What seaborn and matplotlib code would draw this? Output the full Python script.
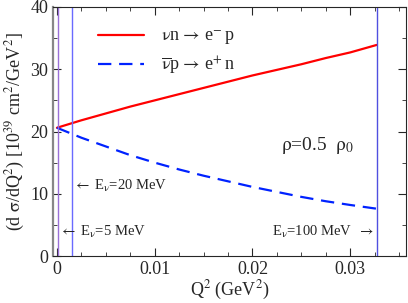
import numpy as np
import pandas as pd
import matplotlib
matplotlib.use("Agg")
import matplotlib.pyplot as plt
from matplotlib.ticker import MultipleLocator
import seaborn as sns

# Q^2 grid (GeV^2) and cross sections
q2 = [0.0, 0.0025, 0.005, 0.0075, 0.01, 0.0125, 0.015, 0.0175, 0.02, 0.0225, 0.025, 0.0275, 0.03, 0.0327]
nu_n = [20.6, 21.8, 22.9, 24.0, 25.0, 26.0, 27.0, 28.0, 29.0, 29.9, 30.8, 31.8, 32.7, 33.9]
nubar_p = [20.6, 19.0, 17.6, 16.2, 15.0, 13.9, 12.9, 12.0, 11.1, 10.3, 9.5, 8.8, 8.2, 7.6]

# kinematic limits for the three beam energies
q2_max = [0.0001, 0.0015, 0.0327]
q2_max_colors = ["#9a70d8", "#6a6aff", "#5050e0"]

df = pd.DataFrame({"q2": q2 * 2,
                   "xs": nu_n + nubar_p,
                   "reaction": ["nu"] * len(q2) + ["nubar"] * len(q2)})

sns.set_style("ticks")
plt.rcParams["font.family"] = ["Liberation Serif", "DejaVu Serif"]
plt.rcParams["mathtext.fontset"] = "stix"
plt.rcParams["mathtext.default"] = "rm"

fig = plt.figure(figsize=(4.08, 3.03), dpi=100)
ax = fig.add_axes([0.13, 0.155, 0.865, 0.822])

sns.lineplot(data=df[df.reaction == "nu"], x="q2", y="xs", color="#ff0000",
             lw=1.6, ax=ax, label=r"$\nu$n$\,\rightarrow\,$e$^{-}\,$p")
sns.lineplot(data=df[df.reaction == "nubar"], x="q2", y="xs", color="#0022ff",
             lw=1.6, ax=ax, linestyle=(0, (6, 3.5)),
             label=r"$\overline{\nu}$p$\,\rightarrow\,$e$^{+}\,$n")

for xv, c in zip(q2_max, q2_max_colors):
    ax.axvline(xv, color=c, lw=1.0)

ax.set_xlim(-0.0004, 0.0357)
ax.set_ylim(0, 40)
ax.xaxis.set_major_locator(MultipleLocator(0.01))
ax.xaxis.set_minor_locator(MultipleLocator(0.0025))
ax.yaxis.set_major_locator(MultipleLocator(10))
ax.yaxis.set_minor_locator(MultipleLocator(5))
ax.set_xticks([0, 0.01, 0.02, 0.03])
ax.set_xticklabels(["0", "0.01", "0.02", "0.03"])
ax.tick_params(which="both", direction="in", top=True, right=True, labelsize=13)
ax.tick_params(which="major", length=6)
ax.tick_params(which="minor", length=3)
ax.spines["left"].set_color("#888888")
ax.spines["left"].set_linewidth(1.6)

ax.set_xlabel("Q$^{2}$ (GeV$^{2}$)", fontsize=13, labelpad=1)
ax.set_ylabel(r"(d $\sigma$/dQ$^{2}$) [10$^{39}$ cm$^{2}$/GeV$^{2}$]", fontsize=13, labelpad=2)

ax.text(0.0016, 11.3, r"$\leftarrow$ E$_{\nu}$=20 MeV", fontsize=10.5, va="center")
ax.text(0.0002, 3.9, r"$\leftarrow$ E$_{\nu}$=5 MeV", fontsize=10.5, va="center")
ax.text(0.0325, 3.9, r"E$_{\nu}$=100 MeV  $\rightarrow$", fontsize=10.5, va="center", ha="right")
ax.text(0.0229, 17.8, r"$\rho$=0.5  $\rho_{0}$", fontsize=14, va="center")

leg = ax.legend(loc="upper left", bbox_to_anchor=(0.08, 0.98), frameon=False,
                fontsize=13, handlelength=2.6, handletextpad=0.9, labelspacing=0.4)

fig.savefig("out.png", dpi=100)
